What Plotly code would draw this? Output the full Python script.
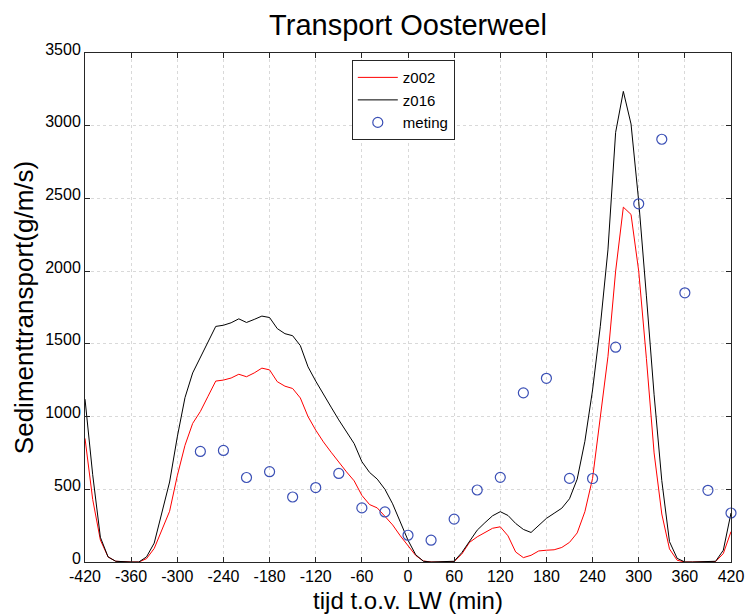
import plotly.graph_objects as go

# simulated time grid (minutes relative to low water)
t_sim = list(range(-420, 421, 10))

z016 = [1120, 600, 170, 35, 5, 0, 0, 0, 35, 130, 330, 550, 860, 1130, 1300, 1410, 1520,
        1620, 1628, 1645, 1672, 1647, 1668, 1691, 1681, 1605, 1570, 1556, 1488, 1342, 1244,
        1151, 1065, 977, 895, 814, 690, 616, 570, 500, 400, 280, 150, 50, 5, 0, 0, 0, 5,
        65, 145, 219, 270, 318, 346, 320, 265, 224, 203, 255, 300, 335, 370, 435, 570, 830,
        1183, 1618, 2146, 2954, 3236, 3012, 2480, 1830, 1150, 560, 140, 25, 0, 0, 0, 0, 5,
        81, 337]

z002 = [850, 430, 151, 35, 5, 0, 0, 0, 23, 93, 220, 349, 593, 802, 953, 1035, 1140,
        1244, 1251, 1265, 1291, 1274, 1300, 1333, 1321, 1240, 1209, 1193, 1128, 1000, 907,
        826, 755, 686, 620, 558, 458, 395, 372, 314, 255, 180, 115, 45, 7, 0, 0, 0, 3,
        55, 135, 173, 205, 232, 242, 180, 69, 30, 46, 76, 81, 84, 100, 135, 200, 346,
        575, 1000, 1412, 2000, 2440, 2390, 2000, 1400, 750, 330, 90, 12, 0, 0, 0, 0, 3,
        58, 209]

t_meas = list(range(-270, 421, 30))
meting = [760, 767, 581, 621, 447, 512, 609, 372, 344, 184, 150, 295, 495, 582, 1163,
          1263, 575, 574, 1477, 2463, 2907, 1851, 493, 337]

x_ticks = list(range(-420, 421, 60))
y_ticks = list(range(0, 3501, 500))

FONT = "Liberation Sans, Arial, sans-serif"

fig = go.Figure()
fig.add_trace(go.Scatter(x=t_sim, y=z002, mode="lines", name="z002",
                         line=dict(color="#ff0000", width=1)))
fig.add_trace(go.Scatter(x=t_sim, y=z016, mode="lines", name="z016",
                         line=dict(color="#000000", width=1)))
fig.add_trace(go.Scatter(x=t_meas, y=meting, mode="markers", name="meting",
                         marker=dict(symbol="circle-open", size=10,
                                     color="#3a4fb5", line=dict(width=1.2)),
                         cliponaxis=False))

axis_common = dict(showline=True, linecolor="#262626", linewidth=1, mirror="allticks",
                   ticks="inside", ticklen=5, tickcolor="#262626",
                   showgrid=True, gridcolor="#d9d9d9", griddash="dot", gridwidth=1,
                   zeroline=False, automargin=False,
                   tickfont=dict(family=FONT, size=16, color="black"))

fig.update_xaxes(range=[-420, 420], tickvals=x_ticks,
                 ticktext=[str(v) for v in x_ticks],
                 title=dict(text="tijd t.o.v. LW (min)",
                            font=dict(family=FONT, size=24, color="black"), standoff=8),
                 **axis_common)
fig.update_yaxes(range=[0, 3500], tickvals=y_ticks,
                 ticktext=[str(v) for v in y_ticks],
                 ticklabelshift=-4,
                 title=dict(text="Sedimenttransport(g/m/s)",
                            font=dict(family=FONT, size=26, color="black"), standoff=4),
                 **axis_common)

fig.update_layout(
    width=747, height=614,
    margin=dict(l=85, r=16, t=53, b=52),
    paper_bgcolor="white", plot_bgcolor="white",
    title=dict(text="Transport Oosterweel", x=0.5, xref="paper",
               y=1 - 25 / 614, yref="container", yanchor="middle", xanchor="center",
               font=dict(family=FONT, size=29, color="black")),
    legend=dict(x=0.413, y=0.986, xanchor="left", yanchor="top",
                bgcolor="white", bordercolor="#262626", borderwidth=1,
                font=dict(family=FONT, size=15, color="black"),
                tracegroupgap=0, itemwidth=40),
    showlegend=True,
)

fig.write_html("out.html")
